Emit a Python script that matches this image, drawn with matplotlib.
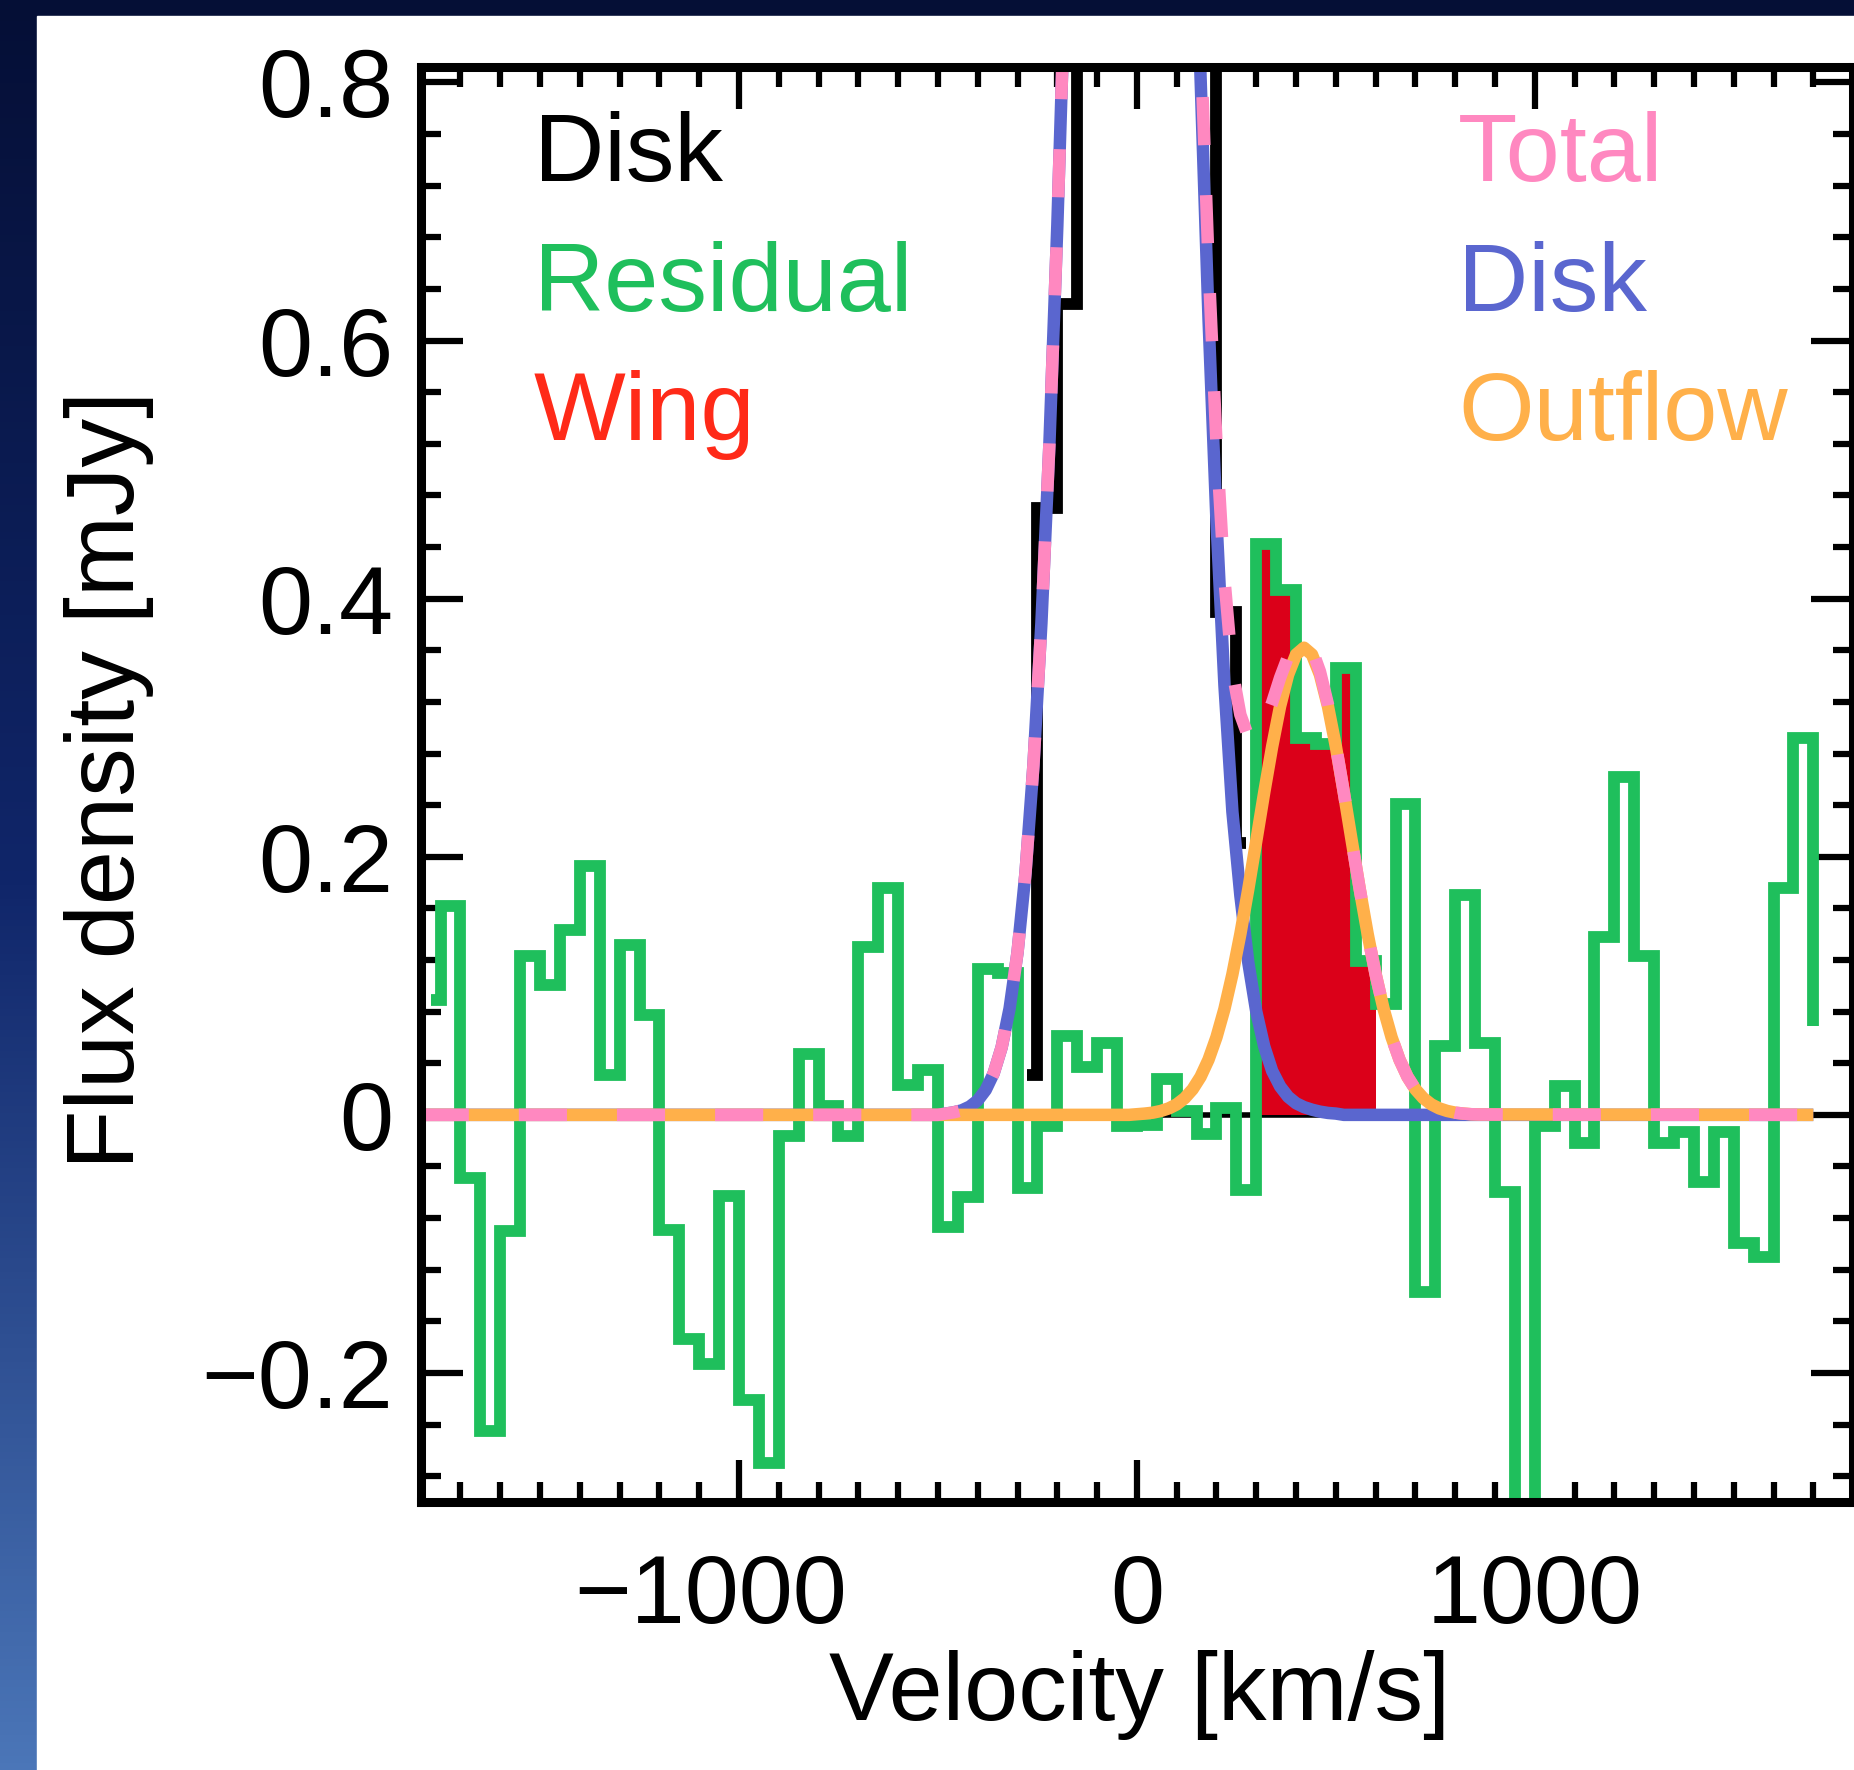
import numpy as np
import matplotlib
matplotlib.use("Agg")
import matplotlib.pyplot as plt
from matplotlib.patches import Rectangle
from matplotlib.ticker import MultipleLocator
from matplotlib.colors import LinearSegmentedColormap
from matplotlib.transforms import ScaledTranslation

plt.rcParams['font.family'] = ['Liberation Sans', 'DejaVu Sans']

# ---------------- data ----------------
# residual spectrum: left edge of each channel (km/s) and flux (mJy)
res_vel = np.concatenate([[-1775], np.arange(-1750, 1701, 50)])
res_flux = [0.089, 0.162, -0.049, -0.245, -0.090, 0.123, 0.101, 0.143, 0.193, 0.031,
            0.132, 0.077, -0.089, -0.174, -0.193, -0.063, -0.221, -0.270, -0.016, 0.047,
            0.007, -0.016, 0.130, 0.176, 0.023, 0.035, -0.087, -0.064, 0.113, 0.110,
            -0.057, -0.009, 0.061, 0.037, 0.056, -0.009, -0.008, 0.028, 0.003, -0.015,
            0.005, -0.058, 0.442, 0.407, 0.292, 0.287, 0.346, 0.119, 0.086, 0.241,
            -0.137, 0.053, 0.170, 0.056, -0.060, -0.400, -0.009, 0.022, -0.022, 0.138,
            0.262, 0.123, -0.022, -0.013, -0.052, -0.013, -0.099, -0.110, 0.176, 0.292,
            0.069]

# observed disk channels (black histogram)
disk_obs_vel = [-275, -250, -200, -150, -100, -50, 0, 50, 100, 150, 200, 250, 275]
disk_obs_flux = [0.031, 0.470, 0.628, 1.20, 1.80, 2.20, 2.30, 2.00, 1.50, 0.95, 0.390, 0.211, 0.211]

# wing velocity range (filled red)
wing_lo, wing_hi = 300, 600

# model curves
model_vel = np.concatenate([[-1800], np.arange(-500, 861, 20), [1700]])
disk_model = [0.0,
              0.000, 0.001, 0.002, 0.0035, 0.0064, 0.0112, 0.0193, 0.0322, 0.0523, 0.0824,
              0.126, 0.1875, 0.271, 0.381, 0.519, 0.689, 0.887, 1.110, 1.350, 1.595,
              1.832, 2.043, 2.215, 2.333, 2.387, 2.373, 2.293, 2.152, 1.963, 1.739,
              1.498, 1.253, 1.018, 0.804, 0.617, 0.460, 0.333, 0.235, 0.170, 0.118,
              0.080, 0.053, 0.034, 0.022, 0.014, 0.009, 0.006, 0.004, 0.0025, 0.0015,
              0.001, 0.0, 0.0, 0.0, 0.0, 0.0, 0.0, 0.0, 0.0, 0.0,
              0.0, 0.0, 0.0, 0.0, 0.0, 0.0, 0.0, 0.0, 0.0,
              0.0]
outflow_model = [0.0,
                 0.0, 0.0, 0.0, 0.0, 0.0, 0.0, 0.0, 0.0, 0.0, 0.0,
                 0.0, 0.0, 0.0, 0.0, 0.0, 0.0, 0.0, 0.0, 0.0, 0.0,
                 0.0, 0.0, 0.0, 0.0, 0.0, 0.0005, 0.0010, 0.0017, 0.0030, 0.0050,
                 0.0081, 0.0129, 0.0198, 0.0295, 0.0428, 0.0602, 0.0821, 0.1089, 0.1401, 0.1750,
                 0.2122, 0.2499, 0.2855, 0.3168, 0.3411, 0.3567, 0.3620, 0.3567, 0.3411, 0.3168,
                 0.2855, 0.2499, 0.2122, 0.1750, 0.1401, 0.1089, 0.0821, 0.0602, 0.0428, 0.0295,
                 0.0198, 0.0129, 0.0081, 0.0050, 0.0030, 0.0017, 0.0010, 0.0005, 0.0003,
                 0.0]
total_model = [0.0,
               0.000, 0.001, 0.002, 0.0035, 0.0064, 0.0112, 0.0193, 0.0322, 0.0523, 0.0824,
               0.126, 0.1875, 0.271, 0.381, 0.519, 0.689, 0.887, 1.110, 1.350, 1.595,
               1.832, 2.043, 2.215, 2.333, 2.387, 2.3735, 2.294, 2.1537, 1.966, 1.744,
               1.5061, 1.2659, 1.0378, 0.8335, 0.6598, 0.5202, 0.4151, 0.3439, 0.3101, 0.2930,
               0.2922, 0.3029, 0.3195, 0.3388, 0.3551, 0.3657, 0.3680, 0.3607, 0.3436, 0.3183,
               0.2865, 0.2499, 0.2122, 0.1750, 0.1401, 0.1089, 0.0821, 0.0602, 0.0428, 0.0295,
               0.0198, 0.0129, 0.0081, 0.0050, 0.0030, 0.0017, 0.0010, 0.0005, 0.0003,
               0.0]

xticks = [-1000, 0, 1000]
xticklabels = ['\u22121000', '0', '1000']
yticks = [-0.2, 0.0, 0.2, 0.4, 0.6, 0.8]
yticklabels = ['\u22120.2', '0', '0.2', '0.4', '0.6', '0.8']

# ---------------- style ----------------
GREEN = '#1fbf5c'
BLUE = '#5a66cf'
ORANGE = '#ffb04a'
PINK = '#ff88c0'
REDFILL = '#db0019'
REDTXT = '#ff2a18'
FS = 70
LW_MODEL = 9.0

W, H = 1854, 1770
fig = plt.figure(figsize=(W / 100, H / 100), dpi=100)

# slide background
bg = fig.add_axes([0, 0, 1, 1], zorder=-10)
grad = np.linspace(0, 1, 256).reshape(-1, 1)
cmap = LinearSegmentedColormap.from_list('bg', ['#050f36', '#10266a', '#4b76b8'])
bg.imshow(grad, aspect='auto', cmap=cmap, extent=[0, 1, 0, 1], origin='upper')
bg.add_patch(Rectangle((37 / W, 0), 1 - 37 / W, (H - 16) / H, color='white',
                       transform=bg.transAxes, zorder=2))
bg.set_xlim(0, 1)
bg.set_ylim(0, 1)
bg.axis('off')

# main axes
ax_l, ax_r, ax_t, ax_b = 420.7, 1853.1, 67.0, 1502.0
ax = fig.add_axes([ax_l / W, (H - ax_b) / H, (ax_r - ax_l) / W, (ax_b - ax_t) / H])
ax.set_facecolor('none')

ax.axhline(0, color='black', lw=4, zorder=1)

res_vel_a = np.asarray(res_vel, dtype=float)
res_flux_a = np.asarray(res_flux, dtype=float)
m = (res_vel_a >= wing_lo) & (res_vel_a <= wing_hi)
wx = res_vel_a[m]
wy = res_flux_a[m].copy()
wy[-1] = wy[-2]
ax.fill_between(wx, 0, wy, step='post', color=REDFILL, lw=0, zorder=2)

ax.step(res_vel_a, res_flux_a, where='post', color=GREEN, lw=8.5,
        solid_joinstyle='miter', solid_capstyle='butt', zorder=3)
ax.step(disk_obs_vel, disk_obs_flux, where='post', color='black', lw=8.5,
        solid_joinstyle='miter', solid_capstyle='butt', zorder=4)
ax.plot(model_vel, disk_model, color=BLUE, lw=LW_MODEL, solid_capstyle='butt', zorder=5)
ax.plot(model_vel, outflow_model, color=ORANGE, lw=LW_MODEL, solid_capstyle='butt', zorder=6)
ax.plot(model_vel, total_model, color=PINK, lw=LW_MODEL, dashes=(3.85, 4.0),
        dash_capstyle='butt', zorder=7)

ax.set_xlim(-1800, 1800)
ax.set_ylim(-0.30, 0.812)
ax.set_xticks(xticks, labels=xticklabels)
ax.set_yticks(yticks, labels=yticklabels)
ax.xaxis.set_minor_locator(MultipleLocator(100))
ax.yaxis.set_minor_locator(MultipleLocator(0.04))
ax.tick_params(which='both', direction='in', top=True, right=True, width=4.5,
               colors='black', labelsize=FS)
ax.tick_params(which='major', length=30)
ax.tick_params(which='minor', length=14.5)
ax.tick_params(axis='x', which='major', pad=37)
ax.tick_params(axis='y', which='major', pad=20)
for s in ax.spines.values():
    s.set_linewidth(6.5)
    s.set_zorder(10)

# negative tick label: digits centred on the tick, minus hanging left
for lab in ax.get_xticklabels():
    if lab.get_text().startswith('\u2212'):
        lab.set_transform(lab.get_transform() + ScaledTranslation(-0.28, 0, fig.dpi_scale_trans))

ax.set_xlabel('Velocity [km/s]', fontsize=FS)
ax.xaxis.label.set_va('baseline')
ax.xaxis.set_label_coords(0.502, (ax_b - 1720) / (ax_b - ax_t))
ax.set_ylabel('Flux density [mJy]', fontsize=FS)
ax.yaxis.label.set_va('center')
ax.yaxis.set_label_coords((108.8 - ax_l) / (ax_r - ax_l), (ax_b - 780.4) / (ax_b - ax_t))

def axy(py):
    return (ax_b - py) / (ax_b - ax_t)

def axx(px):
    return (px - ax_l) / (ax_r - ax_l)

left_x, right_x = axx(534), axx(1458)
rows = [181, 311, 440]
for txt, col, r in [('Disk', 'black', rows[0]), ('Residual', GREEN, rows[1]), ('Wing', REDTXT, rows[2])]:
    ax.text(left_x, axy(r), txt, color=col, fontsize=FS, ha='left', va='baseline',
            transform=ax.transAxes, zorder=12)
for txt, col, r in [('Total', PINK, rows[0]), ('Disk', BLUE, rows[1]), ('Outflow', ORANGE, rows[2])]:
    ax.text(right_x, axy(r), txt, color=col, fontsize=FS, ha='left', va='baseline',
            transform=ax.transAxes, zorder=12)

fig.savefig('out.png', dpi=100)
